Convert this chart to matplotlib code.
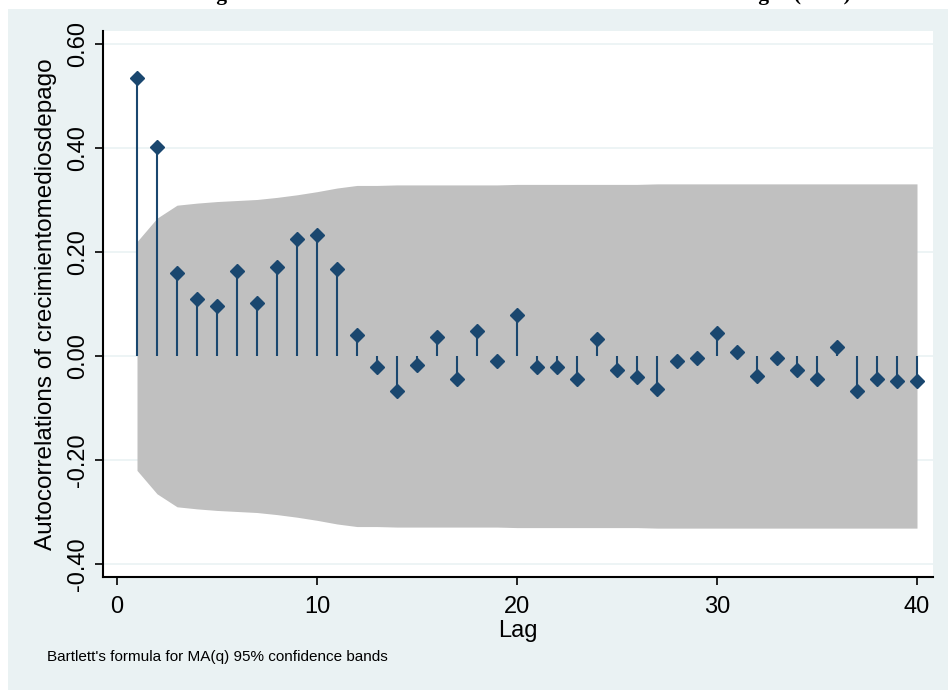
import matplotlib
matplotlib.use('Agg')
import matplotlib.pyplot as plt
from matplotlib.patches import Rectangle

# autocorrelation values
lags = list(range(1, 41))
acf = [0.535, 0.402, 0.160, 0.109, 0.097, 0.163, 0.101, 0.171, 0.225, 0.233,
       0.167, 0.040, -0.022, -0.067, -0.017, 0.037, -0.045, 0.048, -0.010, 0.079,
       -0.022, -0.022, -0.045, 0.033, -0.026, -0.041, -0.064, -0.010, -0.003, 0.044,
       0.008, -0.038, -0.003, -0.026, -0.045, 0.018, -0.067, -0.045, -0.048, -0.048]
# half width of the Bartlett 95% band at each lag
band = [0.220, 0.265, 0.290, 0.294, 0.297, 0.299, 0.301, 0.305, 0.310, 0.316,
        0.323, 0.328, 0.328, 0.329, 0.329, 0.329, 0.329, 0.329, 0.329, 0.330,
        0.330, 0.330, 0.330, 0.330, 0.330, 0.330, 0.331, 0.331, 0.331, 0.331,
        0.331, 0.331, 0.331, 0.331, 0.331, 0.331, 0.331, 0.331, 0.331, 0.331]
yticks = [-0.40, -0.20, 0.00, 0.20, 0.40, 0.60]
xticks = [0, 10, 20, 30, 40]

navy = '#1a476f'
bluegray = '#eaf2f3'

fig = plt.figure(figsize=(9.48, 6.9), dpi=100, facecolor='white')
# outer graph region
fig.patches.append(Rectangle((8 / 948, 0), 1, 1 - 9 / 690, transform=fig.transFigure,
                             facecolor=bluegray, edgecolor='none', zorder=-10))
# title, mostly above the visible area
fig.text(197 / 948, 1.0, 'Figura 1: Autocorrelación del crecimiento de medios en Rezagos (FAC)',
         family='Liberation Serif', weight='bold', fontsize=15.6, va='baseline', ha='left')

ax = fig.add_axes([103 / 948, 1 - 577 / 690, 830 / 948, 546 / 690])
ax.set_facecolor('white')

neg = [-b for b in band]
ax.fill_between(lags, neg, band, color='#c0c0c0', lw=0, zorder=1)
ax.vlines(lags, 0, acf, color=navy, lw=1.5, zorder=3)
ax.plot(lags, acf, 'D', color=navy, ms=6.8, mec=navy, zorder=4)

ax.set_xlim(-0.7, 40.8)
ax.set_ylim(-0.425, 0.625)
ax.set_yticks(yticks)
ax.set_yticklabels(['%.2f' % v for v in yticks], rotation=90, va='center',
                   family='Liberation Sans', fontsize=17)
ax.set_xticks(xticks)
ax.set_xticklabels([str(v) for v in xticks], family='Liberation Sans', fontsize=17)
ax.grid(axis='y', color=bluegray, lw=1.2, zorder=0)
ax.set_axisbelow(True)
ax.tick_params(axis='both', direction='out', length=6, width=1.2, color='black')
ax.tick_params(axis='y', pad=4)
ax.tick_params(axis='x', pad=8)

for s in ['top', 'right']:
    ax.spines[s].set_visible(False)
for s in ['left', 'bottom']:
    ax.spines[s].set_color('black')
    ax.spines[s].set_linewidth(1.5)

ax.set_ylabel('Autocorrelations of crecimientomediosdepago',
              family='Liberation Sans', fontsize=17.5)
ax.yaxis.set_label_coords(-0.055, 0.5)
ax.set_xlabel('Lag', family='Liberation Sans', fontsize=17, labelpad=1)

fig.text(47 / 948, 1 - 657 / 690, "Bartlett's formula for MA(q) 95% confidence bands",
         family='Liberation Sans', fontsize=11, va='center', ha='left')

fig.savefig('out.png', dpi=100, facecolor=fig.get_facecolor())
